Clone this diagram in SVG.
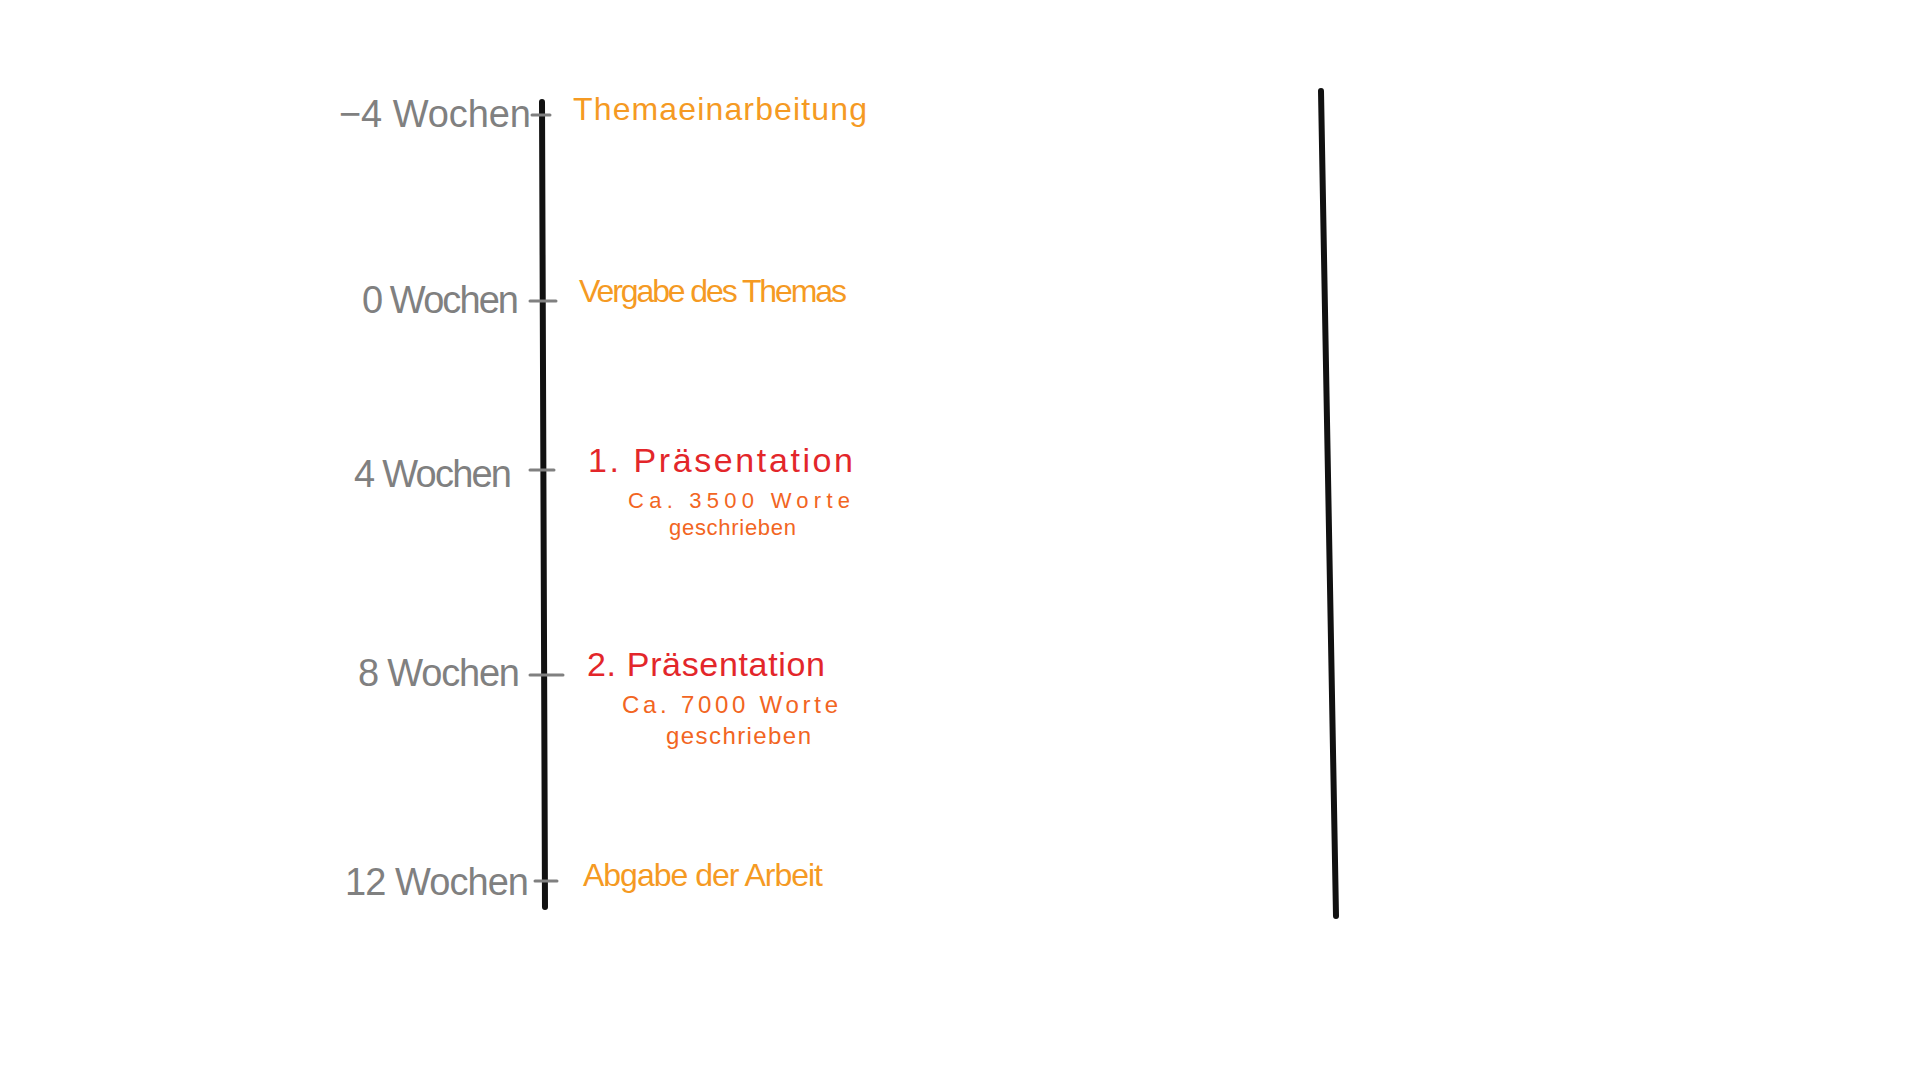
<svg xmlns="http://www.w3.org/2000/svg" width="1920" height="1080" viewBox="0 0 1920 1080">
<style>
.lbl{font-family:"Liberation Sans","Noto Sans",sans-serif;fill:#808080;font-size:38px}
.ev{font-family:"Liberation Sans","Noto Sans",sans-serif;fill:#F59A23;font-size:32px}
.pr{font-family:"Liberation Sans","Noto Sans",sans-serif;fill:#E3262A;font-size:34px}
.sub{font-family:"Liberation Sans","Noto Sans",sans-serif;fill:#F26522;font-size:24px}
.sub2{font-family:"Liberation Sans","Noto Sans",sans-serif;fill:#F26522;font-size:22px}
.axis{stroke:#111;stroke-width:6;stroke-linecap:round;fill:none}
.tick{stroke:#808080;stroke-width:3;stroke-linecap:round;fill:none}
</style>
<rect width="1920" height="1080" fill="#fff"/>
<g id="connectors">
<line class="axis" x1="542" y1="102" x2="545" y2="907"/>
<line class="axis" x1="1321" y1="91" x2="1336" y2="916"/>
<line class="tick" x1="532" y1="115" x2="550" y2="115"/>
<line class="tick" x1="530" y1="301" x2="556" y2="301"/>
<line class="tick" x1="530" y1="470" x2="554" y2="470"/>
<line class="tick" x1="530" y1="675" x2="563" y2="675"/>
<line class="tick" x1="535" y1="881" x2="557" y2="881"/>
</g>
<g id="m-4">
<text class="lbl" x="339" y="127" textLength="192" lengthAdjust="spacing">−4 Wochen</text>
<text class="ev" x="573" y="120" textLength="294" lengthAdjust="spacing">Themaeinarbeitung</text>
</g>
<g id="m0">
<text class="lbl" x="362" y="313" textLength="157" lengthAdjust="spacing">0 Wochen</text>
<text class="ev" x="579" y="302" textLength="268" lengthAdjust="spacing">Vergabe des Themas</text>
</g>
<g id="m4">
<text class="lbl" x="354" y="487" textLength="158" lengthAdjust="spacing">4 Wochen</text>
<text class="pr" x="588" y="472" textLength="265" lengthAdjust="spacing">1. Präsentation</text>
<text class="sub2" x="628" y="508" textLength="222" lengthAdjust="spacing">Ca. 3500 Worte</text>
<text class="sub2" x="669" y="535" textLength="127" lengthAdjust="spacing">geschrieben</text>
</g>
<g id="m8">
<text class="lbl" x="358" y="686" textLength="162" lengthAdjust="spacing">8 Wochen</text>
<text class="pr" x="587" y="676" textLength="238" lengthAdjust="spacing">2. Präsentation</text>
<text class="sub" x="622" y="713" textLength="216" lengthAdjust="spacing">Ca. 7000 Worte</text>
<text class="sub" x="666" y="744" textLength="145" lengthAdjust="spacing">geschrieben</text>
</g>
<g id="m12">
<text class="lbl" x="345" y="895" textLength="184" lengthAdjust="spacing">12 Wochen</text>
<text class="ev" x="583" y="886" textLength="240" lengthAdjust="spacing">Abgabe der Arbeit</text>
</g>
</svg>
